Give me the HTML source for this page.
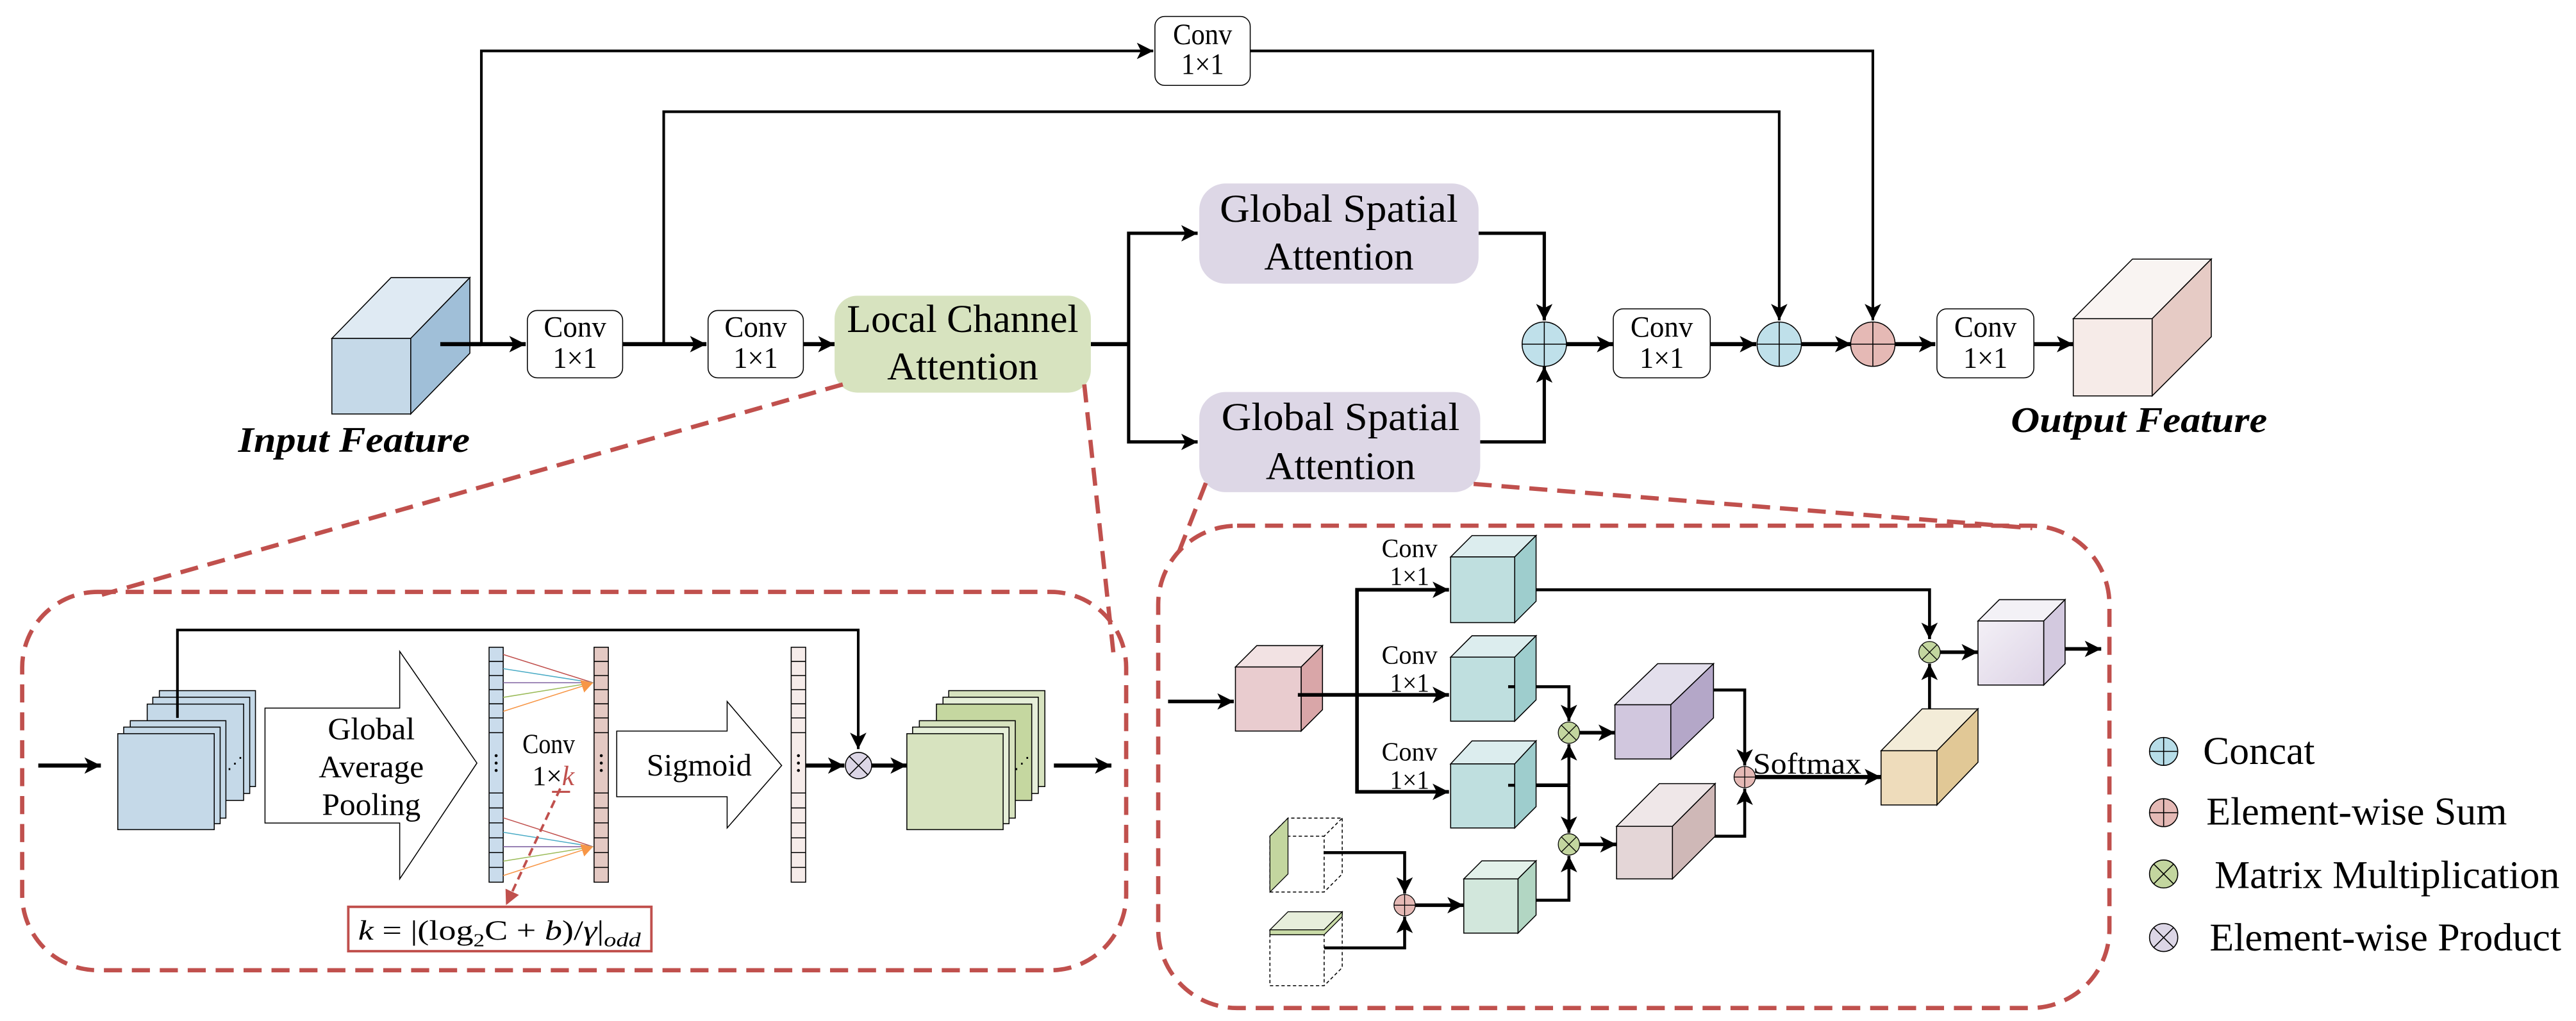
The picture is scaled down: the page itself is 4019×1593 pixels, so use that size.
<!DOCTYPE html>
<html><head><meta charset="utf-8"><style>html,body{margin:0;padding:0;background:#fff}svg{display:block}svg text{font-family:"Liberation Serif",serif}</style></head>
<body>
<svg xmlns="http://www.w3.org/2000/svg" width="4019" height="1593" viewBox="0 0 1568 621.5" preserveAspectRatio="none">
<defs>
<marker id="a" markerUnits="userSpaceOnUse" markerWidth="11" markerHeight="10" refX="10" refY="5" orient="auto"><path d="M0,0 L10,5 L0,10 L2.5,5 z" fill="#000"/></marker>
<marker id="r" markerUnits="userSpaceOnUse" markerWidth="10" markerHeight="9" refX="9" refY="4.5" orient="auto"><path d="M0,0 L9,4.5 L0,9 z" fill="#c0504d"/></marker>
<marker id="o" markerUnits="userSpaceOnUse" markerWidth="8" markerHeight="8" refX="7" refY="4" orient="auto"><path d="M0,0 L7,4 L0,8 z" fill="#f79646"/></marker>
<linearGradient id="gp" x1="0" y1="0" x2="1" y2="1"><stop offset="0" stop-color="#f3f0f6"/><stop offset="1" stop-color="#ddd3e6"/></linearGradient>
</defs>

<!-- ========== TOP ========== -->
<g fill="none" stroke="#000">
<polyline points="293,209.5 293,31 702,31" stroke-width="1.6" marker-end="url(#a)"/>
<polyline points="761,31 1140,31 1140,195" stroke-width="1.6" marker-end="url(#a)"/>
<polyline points="404,209.5 404,68 1083,68 1083,195" stroke-width="1.6" marker-end="url(#a)"/>
<line x1="270" y1="209.5" x2="320" y2="209.5" stroke-width="2.5" marker-end="url(#a)"/>
<line x1="379" y1="209.5" x2="430" y2="209.5" stroke-width="2.5" marker-end="url(#a)"/>
<line x1="489" y1="209.5" x2="508" y2="209.5" stroke-width="2.5" marker-end="url(#a)"/>
<polyline points="664,209.5 687,209.5" stroke-width="2.5"/>
<polyline points="687,209.5 687,142 729,142" stroke-width="2" marker-end="url(#a)"/>
<polyline points="687,209.5 687,269 729,269" stroke-width="2" marker-end="url(#a)"/>
<polyline points="900,142 940,142 940,195" stroke-width="2" marker-end="url(#a)"/>
<polyline points="900,269 940,269 940,223" stroke-width="2" marker-end="url(#a)"/>
<line x1="953" y1="209.5" x2="982" y2="209.5" stroke-width="2.5" marker-end="url(#a)"/>
<line x1="1041" y1="209.5" x2="1069" y2="209.5" stroke-width="2.5" marker-end="url(#a)"/>
<line x1="1096" y1="209.5" x2="1127" y2="209.5" stroke-width="2.5" marker-end="url(#a)"/>
<line x1="1153" y1="209.5" x2="1178" y2="209.5" stroke-width="2.5" marker-end="url(#a)"/>
<line x1="1238" y1="209.5" x2="1262" y2="209.5" stroke-width="2.5" marker-end="url(#a)"/>
</g>

<!-- input cube -->
<g stroke="#000" stroke-width="0.6">
<polygon points="202,206 238,169 286,169 250,206" fill="#dfeaf3"/>
<polygon points="250,206 286,169 286,215 250,252" fill="#a0bfd8"/>
<rect x="202" y="206" width="48" height="46" fill="#c5d9e8"/>
</g>
<line x1="268" y1="209.5" x2="293" y2="209.5" stroke="#000" stroke-width="2.5"/>
<text x="145" y="275" font-size="22" font-weight="bold" font-style="italic" textLength="141" lengthAdjust="spacingAndGlyphs">Input Feature</text>

<!-- output cube -->
<g stroke="#000" stroke-width="0.6">
<polygon points="1262,194 1298,157.7 1346,157.7 1310,194" fill="#f9f4f2"/>
<polygon points="1310,194 1346,157.7 1346,205 1310,241" fill="#e6cbc5"/>
<rect x="1262" y="194" width="48" height="47" fill="#f6ebe8"/>
</g>
<text x="1224" y="263" font-size="22" font-weight="bold" font-style="italic" textLength="156" lengthAdjust="spacingAndGlyphs">Output Feature</text>

<!-- conv boxes -->
<g fill="#fff" stroke="#000" stroke-width="0.6">
<rect x="703" y="10" width="58" height="42" rx="6"/>
<rect x="321" y="189" width="58" height="41" rx="6"/>
<rect x="431" y="189" width="58" height="41" rx="6"/>
<rect x="982" y="188" width="59" height="42" rx="6"/>
<rect x="1179" y="188" width="59" height="42" rx="6"/>
</g>
<g font-size="18" text-anchor="middle">
<text x="732" y="27" textLength="36" lengthAdjust="spacingAndGlyphs">Conv</text><text x="732" y="45" textLength="26" lengthAdjust="spacingAndGlyphs">1×1</text>
<text x="350" y="205" textLength="38" lengthAdjust="spacingAndGlyphs">Conv</text><text x="350" y="224" textLength="27" lengthAdjust="spacingAndGlyphs">1×1</text>
<text x="460" y="205" textLength="38" lengthAdjust="spacingAndGlyphs">Conv</text><text x="460" y="224" textLength="27" lengthAdjust="spacingAndGlyphs">1×1</text>
<text x="1011.5" y="205" textLength="38" lengthAdjust="spacingAndGlyphs">Conv</text><text x="1011.5" y="224" textLength="27" lengthAdjust="spacingAndGlyphs">1×1</text>
<text x="1208.5" y="205" textLength="38" lengthAdjust="spacingAndGlyphs">Conv</text><text x="1208.5" y="224" textLength="27" lengthAdjust="spacingAndGlyphs">1×1</text>
</g>

<!-- LCA / GSA -->
<rect x="508" y="180" width="156" height="59" rx="14" fill="#d7e3bf"/>
<text x="586" y="202" font-size="24" text-anchor="middle" textLength="141" lengthAdjust="spacingAndGlyphs">Local Channel</text>
<text x="586" y="231" font-size="24" text-anchor="middle" textLength="92" lengthAdjust="spacingAndGlyphs">Attention</text>
<rect x="730" y="111.7" width="170" height="61" rx="16" fill="#ddd7e6"/>
<rect x="730" y="238.6" width="171" height="61" rx="16" fill="#ddd7e6"/>
<g font-size="24" text-anchor="middle">
<text x="815" y="135" textLength="145" lengthAdjust="spacingAndGlyphs">Global Spatial</text>
<text x="815" y="164" textLength="91" lengthAdjust="spacingAndGlyphs">Attention</text>
<text x="816" y="261.7" textLength="145" lengthAdjust="spacingAndGlyphs">Global Spatial</text>
<text x="816" y="291.6" textLength="91" lengthAdjust="spacingAndGlyphs">Attention</text>
</g>

<!-- op circles top -->
<g stroke="#000" stroke-width="0.6">
<ellipse cx="940" cy="209.5" rx="13.5" ry="13.5" fill="#bfe0ea"/><path d="M926.5,209.5 H953.5 M940,196 V223"/>
<ellipse cx="1083" cy="209.5" rx="13.5" ry="13.5" fill="#bfe0ea"/><path d="M1069.5,209.5 H1096.5 M1083,196 V223"/>
<ellipse cx="1140" cy="209.5" rx="13.5" ry="13.5" fill="#e5b9b5"/><path d="M1126.5,209.5 H1153.5 M1140,196 V223"/>
</g>

<!-- red dashed connectors -->
<g fill="none" stroke="#c0504d" stroke-width="2.6" stroke-dasharray="11,6">
<line x1="513" y1="234" x2="62" y2="362"/>
<line x1="660" y1="234" x2="678" y2="400"/>
<line x1="734" y1="294" x2="716" y2="340"/>
<line x1="897" y1="294.6" x2="1237" y2="321.5"/>
<rect x="13.5" y="360.3" width="672" height="230.3" rx="46"/>
<rect x="705" y="320" width="579" height="293.6" rx="48"/>
</g>

<!-- ========== LEFT PANEL ========== -->
<line x1="23.3" y1="466" x2="61.4" y2="466" stroke="#000" stroke-width="2.5" marker-end="url(#a)"/>
<g stroke="#000" stroke-width="0.6" fill="#c5d9e8">
<rect x="97" y="420.4" width="58.5" height="58.4"/>
<rect x="93" y="424.4" width="59" height="58.6"/>
<rect x="89.6" y="428.6" width="58.7" height="58.6"/>
<rect x="79.3" y="438.7" width="58.2" height="59.3"/>
<rect x="75.3" y="442.6" width="58.7" height="58.8"/>
<rect x="71.7" y="446.6" width="58.7" height="58.4"/>
</g>
<text x="143" y="468" font-size="10" text-anchor="middle">⋰</text>
<polyline points="108,437 108,383.5 522.4,383.5 522.4,456" fill="none" stroke="#000" stroke-width="1.6" marker-end="url(#a)"/>

<polygon points="161.3,431 243.3,431 243.3,396.5 290.3,464.5 243.3,535 243.3,501 161.3,501" fill="#fff" stroke="#000" stroke-width="0.6"/>
<g font-size="19" text-anchor="middle">
<text x="226" y="450" textLength="53" lengthAdjust="spacingAndGlyphs">Global</text>
<text x="226" y="473" textLength="64" lengthAdjust="spacingAndGlyphs">Average</text>
<text x="226" y="496" textLength="60" lengthAdjust="spacingAndGlyphs">Pooling</text>
</g>

<!-- columns -->
<g stroke="#000" stroke-width="0.6">
<rect x="297.7" y="394" width="8.6" height="143" fill="#cadcec"/>
<rect x="361.6" y="394" width="8.7" height="143" fill="#e4c9c3"/>
<rect x="481.6" y="394" width="8.8" height="143" fill="#f6ecea"/>
<path d="M297.7,402.6h8.6M297.7,411.2h8.6M297.7,419.8h8.6M297.7,428.4h8.6M297.7,437h8.6M297.7,446h8.6M297.7,482.7h8.6M297.7,491.8h8.6M297.7,500.9h8.6M297.7,510h8.6M297.7,519h8.6M297.7,528h8.6"/>
<path d="M361.6,402.6h8.7M361.6,411.2h8.7M361.6,419.8h8.7M361.6,428.4h8.7M361.6,437h8.7M361.6,446h8.7M361.6,482.7h8.7M361.6,491.8h8.7M361.6,500.9h8.7M361.6,510h8.7M361.6,519h8.7M361.6,528h8.7"/>
<path d="M481.6,402.6h8.8M481.6,411.2h8.8M481.6,419.8h8.8M481.6,428.4h8.8M481.6,437h8.8M481.6,446h8.8M481.6,482.7h8.8M481.6,491.8h8.8M481.6,500.9h8.8M481.6,510h8.8M481.6,519h8.8M481.6,528h8.8"/>
</g>
<g fill="#000"><circle cx="302" cy="460" r="0.9"/><circle cx="302" cy="464.5" r="0.9"/><circle cx="302" cy="469" r="0.9"/>
<circle cx="366" cy="460" r="0.9"/><circle cx="366" cy="464.5" r="0.9"/><circle cx="366" cy="469" r="0.9"/>
<circle cx="486" cy="460" r="0.9"/><circle cx="486" cy="464.5" r="0.9"/><circle cx="486" cy="469" r="0.9"/></g>
<g fill="none" stroke-width="0.6">
<line x1="306.3" y1="398.4" x2="361" y2="415.6" stroke="#c0504d"/>
<line x1="306.3" y1="407" x2="361" y2="415.6" stroke="#4bacc6"/>
<line x1="306.3" y1="415.6" x2="361" y2="415.6" stroke="#8064a2"/>
<line x1="306.3" y1="424.5" x2="361" y2="415.6" stroke="#9bbb59"/>
<line x1="306.3" y1="433" x2="361" y2="415.6" stroke="#f79646" marker-end="url(#o)"/>
<line x1="306.3" y1="497.8" x2="361" y2="515.4" stroke="#c0504d"/>
<line x1="306.3" y1="506.6" x2="361" y2="515.4" stroke="#4bacc6"/>
<line x1="306.3" y1="515.4" x2="361" y2="515.4" stroke="#8064a2"/>
<line x1="306.3" y1="524.2" x2="361" y2="515.4" stroke="#9bbb59"/>
<line x1="306.3" y1="533" x2="361" y2="515.4" stroke="#f79646" marker-end="url(#o)"/>
</g>
<text x="334" y="458.4" font-size="17" text-anchor="middle" textLength="32" lengthAdjust="spacingAndGlyphs">Conv</text>
<text x="324" y="478" font-size="17">1×<tspan fill="#c0504d" font-style="italic">k</tspan></text>
<line x1="336" y1="482" x2="347" y2="482" stroke="#c0504d" stroke-width="1.2"/>
<line x1="341" y1="480" x2="308" y2="551" stroke="#c0504d" stroke-width="1.5" stroke-dasharray="5,3" marker-end="url(#r)"/>
<rect x="212" y="552" width="184.5" height="27" fill="#fff" stroke="#c0504d" stroke-width="1.5"/>
<text x="218" y="572" font-size="17" font-style="italic" textLength="172" lengthAdjust="spacingAndGlyphs">k<tspan font-style="normal"> = |(log</tspan><tspan font-style="normal" font-size="11" dy="4">2</tspan><tspan font-style="normal" dy="-4">C + </tspan>b<tspan font-style="normal">)/</tspan>γ<tspan font-style="normal">|</tspan><tspan font-size="12" dy="4">odd</tspan></text>

<polygon points="375.4,445 442.6,445 442.6,427 475.8,466 442.6,504 442.6,485 375.4,485" fill="#fff" stroke="#000" stroke-width="0.6"/>
<text x="425.6" y="472" font-size="19" text-anchor="middle" textLength="64" lengthAdjust="spacingAndGlyphs">Sigmoid</text>
<line x1="490.6" y1="466" x2="514" y2="466" stroke="#000" stroke-width="2.5" marker-end="url(#a)"/>
<g stroke="#000" stroke-width="0.6"><ellipse cx="522.6" cy="466" rx="8" ry="8" fill="#dcd6e6"/><path d="M517,460.4 L528.2,471.6 M528.2,460.4 L517,471.6"/></g>
<line x1="530.6" y1="466" x2="552" y2="466" stroke="#000" stroke-width="2.5" marker-end="url(#a)"/>
<g stroke="#000" stroke-width="0.6">
<rect x="577.5" y="420.4" width="58.5" height="58.4" fill="#d7e3bf"/>
<rect x="574" y="424.4" width="58" height="58.6" fill="#e6efd9"/>
<rect x="570" y="428.6" width="58" height="58.6" fill="#c5d7a0"/>
<rect x="559.6" y="438.7" width="58.4" height="59.3" fill="#d7e3bf"/>
<rect x="555.5" y="442.6" width="58.7" height="58.8" fill="#e6efd9"/>
<rect x="552" y="446.6" width="58.6" height="58.4" fill="#d7e3bf"/>
</g>
<text x="622" y="468" font-size="10" text-anchor="middle">⋰</text>
<line x1="641.5" y1="466" x2="676.5" y2="466" stroke="#000" stroke-width="2.5" marker-end="url(#a)"/>

<!-- ========== RIGHT PANEL ========== -->
<g fill="none" stroke="#000" stroke-width="2.2">
<line x1="711" y1="427" x2="751" y2="427" marker-end="url(#a)"/>
<line x1="790" y1="423" x2="882" y2="423" marker-end="url(#a)"/>
<polyline points="826,423 826,359 882,359" marker-end="url(#a)"/>
<polyline points="826,423 826,482 882,482" marker-end="url(#a)"/>
<polyline points="920,359 1174.5,359 1174.5,389" stroke-width="1.8" marker-end="url(#a)"/>
<polyline points="920,418 955,418 955,439" stroke-width="1.8" marker-end="url(#a)"/>
<polyline points="920,478 955,478"/>
<line x1="955" y1="478" x2="955" y2="453" stroke-width="1.8" marker-end="url(#a)"/>
<line x1="955" y1="478" x2="955" y2="507" stroke-width="1.8" marker-end="url(#a)"/>
<polyline points="924,548 955,548 955,521" stroke-width="1.8" marker-end="url(#a)"/>
<line x1="961.5" y1="446" x2="983" y2="446" marker-end="url(#a)"/>
<line x1="961.5" y1="514" x2="984" y2="514" marker-end="url(#a)"/>
<polyline points="1017,420 1062,420 1062,466" stroke-width="1.8" marker-end="url(#a)"/>
<polyline points="1017,509 1062,509 1062,480" stroke-width="1.8" marker-end="url(#a)"/>
<line x1="1068.5" y1="473" x2="1145" y2="473" stroke-width="2.5" marker-end="url(#a)"/>
<line x1="1174.5" y1="443" x2="1174.5" y2="404" stroke-width="1.8" marker-end="url(#a)"/>
<line x1="1181" y1="397" x2="1204" y2="397" marker-end="url(#a)"/>
<line x1="1244" y1="395" x2="1279" y2="395" marker-end="url(#a)"/>
<polyline points="806,519 855,519 855,544" stroke-width="1.8" marker-end="url(#a)"/>
<polyline points="806,577 855,577 855,558" stroke-width="1.8" marker-end="url(#a)"/>
<line x1="861.5" y1="551" x2="891" y2="551" marker-end="url(#a)"/>
</g>

<g stroke="#000" stroke-width="0.6">
<polygon points="752,406 765,393 805,393 792,406" fill="#f2e2e3"/>
<polygon points="792,406 805,393 805,432 792,445" fill="#d9a6a8"/>
<rect x="752" y="406" width="40" height="39" fill="#e9cccf"/>
<polygon points="883,339 896,326 935,326 922,339" fill="#dcedee"/>
<polygon points="922,339 935,326 935,366 922,379" fill="#9ecdcd"/>
<rect x="883" y="339" width="39" height="40" fill="#bfdfdf"/>
<polygon points="883,400 896,387 935,387 922,400" fill="#dcedee"/>
<polygon points="922,400 935,387 935,426 922,439" fill="#9ecdcd"/>
<rect x="883" y="400" width="39" height="39" fill="#bfdfdf"/>
<polygon points="883,465 896,451 935,451 922,465" fill="#dcedee"/>
<polygon points="922,465 935,451 935,491 922,504" fill="#9ecdcd"/>
<rect x="883" y="465" width="39" height="39" fill="#bfdfdf"/>
<polygon points="891,535 902,524 935,524 924,535" fill="#e3f1ea"/>
<polygon points="924,535 935,524 935,557 924,568" fill="#b2d6c3"/>
<rect x="891" y="535" width="33" height="33" fill="#d2e7dc"/>
<polygon points="983,429 1009,404 1043,404 1017,429" fill="#e3dfec"/>
<polygon points="1017,429 1043,404 1043,437 1017,462" fill="#b4a7c8"/>
<rect x="983" y="429" width="34" height="33" fill="#d1c7de"/>
<polygon points="984,503 1010,477 1044,477 1018,503" fill="#efe7e8"/>
<polygon points="1018,503 1044,477 1044,509 1018,535" fill="#cfb8b7"/>
<rect x="984" y="503" width="34" height="32" fill="#e4d6d7"/>
<polygon points="1145,457 1170,431.5 1204,431.5 1179,457" fill="#f3ecd8"/>
<polygon points="1179,457 1204,431.5 1204,464 1179,490" fill="#e1c896"/>
<rect x="1145" y="457" width="34" height="33" fill="#eedcbb"/>
<polygon points="1204,378 1217,365 1257,365 1244,378" fill="#f3f1f6"/>
<polygon points="1244,378 1257,365 1257,404 1244,417" fill="#d3c9df"/>
<rect x="1204" y="378" width="40" height="39" fill="url(#gp)"/>
</g>
<g fill="none" stroke="#000" stroke-width="0.6" stroke-dasharray="2,1.5">
<rect x="773" y="509" width="33" height="34"/>
<polyline points="773,509 784,498 817,498 806,509"/><polyline points="817,498 817,532 806,543"/>
<rect x="773" y="566" width="33" height="34"/>
<polyline points="817,555 817,589 806,600"/>
</g>
<g stroke="#000" stroke-width="0.5">
<polygon points="773,509 784,498 784,532 773,543" fill="#c3d69f"/>
<polygon points="773,566 784,555 817,555 806,566" fill="#e7eedb"/>
<polygon points="773,566 806,566 817,555 817,558 806,569 773,569" fill="#c9dba7"/>
</g>
<g fill="none" stroke="#000" stroke-width="1.8">
<line x1="790" y1="423" x2="826" y2="423" stroke-width="2.2"/>
<line x1="918" y1="418" x2="922" y2="418"/>
<line x1="918" y1="478" x2="922" y2="478"/>
</g>

<g stroke="#000" stroke-width="0.5">
<ellipse cx="955" cy="446" rx="6.5" ry="6.5" fill="#c3d69f"/><path d="M950.4,441.4 L959.6,450.6 M959.6,441.4 L950.4,450.6"/>
<ellipse cx="955" cy="514" rx="6.5" ry="6.5" fill="#c3d69f"/><path d="M950.4,509.4 L959.6,518.6 M959.6,509.4 L950.4,518.6"/>
<ellipse cx="1174.5" cy="397" rx="6.5" ry="6.5" fill="#c3d69f"/><path d="M1169.9,392.4 L1179.1,401.6 M1179.1,392.4 L1169.9,401.6"/>
<ellipse cx="1062" cy="473" rx="6.5" ry="6.5" fill="#e5b9b5"/><path d="M1055.5,473 H1068.5 M1062,466.5 V479.5"/>
<ellipse cx="855" cy="551" rx="6.5" ry="6.5" fill="#e5b9b5"/><path d="M848.5,551 H861.5 M855,544.5 V557.5"/>
</g>
<g font-size="16" text-anchor="middle">
<text x="858" y="339" textLength="34" lengthAdjust="spacingAndGlyphs">Conv</text><text x="858" y="356" textLength="24" lengthAdjust="spacingAndGlyphs">1×1</text>
<text x="858" y="404" textLength="34" lengthAdjust="spacingAndGlyphs">Conv</text><text x="858" y="421" textLength="24" lengthAdjust="spacingAndGlyphs">1×1</text>
<text x="858" y="463" textLength="34" lengthAdjust="spacingAndGlyphs">Conv</text><text x="858" y="480" textLength="24" lengthAdjust="spacingAndGlyphs">1×1</text>
</g>
<text x="1067" y="471" font-size="18" textLength="66" lengthAdjust="spacingAndGlyphs">Softmax</text>

<g stroke="#000" stroke-width="0.6">
<ellipse cx="1317" cy="457.4" rx="8.6" ry="8.5" fill="#b7dde8"/><path d="M1308.4,457.4 H1325.6 M1317,448.9 V465.9"/>
<ellipse cx="1317" cy="494.7" rx="8.6" ry="8.5" fill="#e5b9b5"/><path d="M1308.4,494.7 H1325.6 M1317,486.2 V503.2"/>
<ellipse cx="1317" cy="532" rx="8.6" ry="8.5" fill="#c3d69f"/><path d="M1311,526 L1323,538 M1323,526 L1311,538"/>
<ellipse cx="1317" cy="570.7" rx="8.6" ry="8.5" fill="#dcd6e6"/><path d="M1311,564.7 L1323,576.7 M1323,564.7 L1311,576.7"/>
</g>
<g font-size="24">
<text x="1341" y="465" textLength="68" lengthAdjust="spacingAndGlyphs">Concat</text>
<text x="1343" y="502" textLength="183" lengthAdjust="spacingAndGlyphs">Element-wise Sum</text>
<text x="1348" y="540.5" textLength="210" lengthAdjust="spacingAndGlyphs">Matrix Multiplication</text>
<text x="1345" y="578.5" textLength="214" lengthAdjust="spacingAndGlyphs">Element-wise Product</text>
</g>
</svg>
</body></html>
